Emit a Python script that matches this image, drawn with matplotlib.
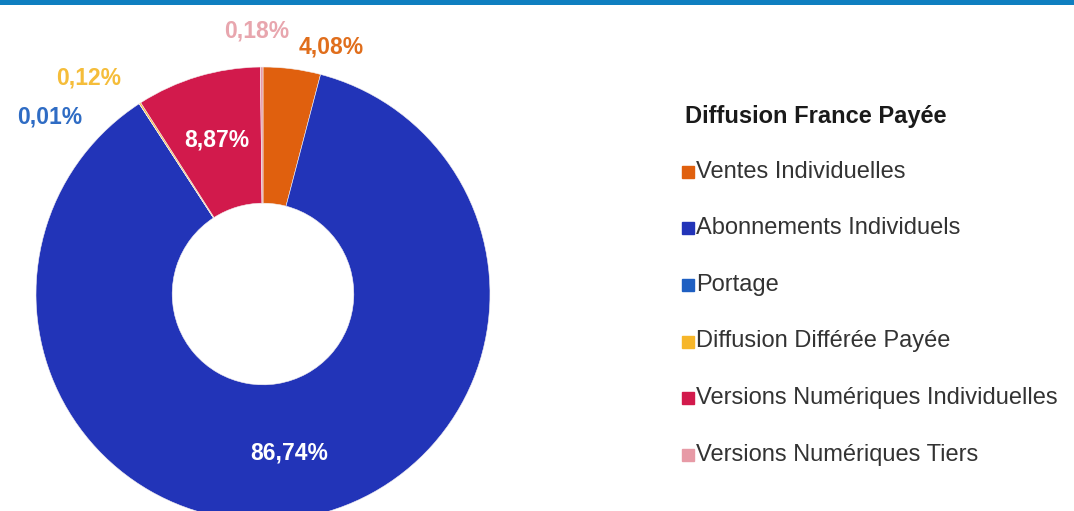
import matplotlib.pyplot as plt
import numpy as np

plt.rcParams['font.family'] = ['Liberation Sans', 'DejaVu Sans']

categories = ['Ventes Individuelles', 'Abonnements Individuels', 'Portage',
              'Diffusion Différée Payée', 'Versions Numériques Individuelles',
              'Versions Numériques Tiers']
values = [4.08, 86.74, 0.01, 0.12, 8.87, 0.18]
labels = ['4,08%', '86,74%', '0,01%', '0,12%', '8,87%', '0,18%']
colors = ['#e0600e', '#2234b8', '#1e5fc2', '#f6b62a', '#d21a4c', '#e79aa6']
label_colors = ['#e06e1c', 'white', '#2f6cc4', '#f5bd3a', 'white', '#e8a6ae']
# labels for thin slices sit outside the ring (pie data units)
outside_pos = {0: (0.30, 1.09), 2: (-0.94, 0.78), 3: (-0.77, 0.95), 5: (-0.03, 1.16)}

fig = plt.figure(figsize=(10.74, 5.11), dpi=100)

# blue band along the top
band = fig.add_axes([0, 1 - 5 / 511, 1, 5 / 511])
band.set_facecolor('#0f7fc0')
band.set_xticks([])
band.set_yticks([])
for s in band.spines.values():
    s.set_visible(False)

r_px = 227
ax = fig.add_axes([(263 - r_px) / 1074, (217 - r_px) / 511, 2 * r_px / 1074, 2 * r_px / 511])
wedges, _ = ax.pie(values, colors=colors, startangle=90, counterclock=False,
                   wedgeprops=dict(width=0.6, linewidth=0.4, edgecolor='#f4f0f0'))
ax.set_xlim(-1, 1)
ax.set_ylim(-1, 1)
ax.set_aspect('equal')
ax.axis('off')

for i, w in enumerate(wedges):
    if i in outside_pos:
        x, y = outside_pos[i]
    else:
        ang = np.deg2rad((w.theta1 + w.theta2) / 2)
        x, y = 0.71 * np.cos(ang), 0.71 * np.sin(ang)
    ax.text(x, y, labels[i], color=label_colors[i], fontsize=16.5, fontweight='bold',
            ha='center', va='center', clip_on=False)

# legend
fig.text(685 / 1074, 1 - 116 / 511, 'Diffusion France Payée', fontsize=17,
         fontweight='bold', color='#1a1a1a', va='center', ha='left')
for i, (name, c) in enumerate(zip(categories, colors)):
    y = 1 - (172 + i * 56.5) / 511
    fig.patches.append(plt.Rectangle((682 / 1074, y - 6 / 511), 12 / 1074, 12 / 511,
                                     transform=fig.transFigure, color=c))
    fig.text(696 / 1074, y, name, fontsize=17, color='#333333', va='center', ha='left')

fig.savefig('out.png', dpi=100, facecolor='white')
